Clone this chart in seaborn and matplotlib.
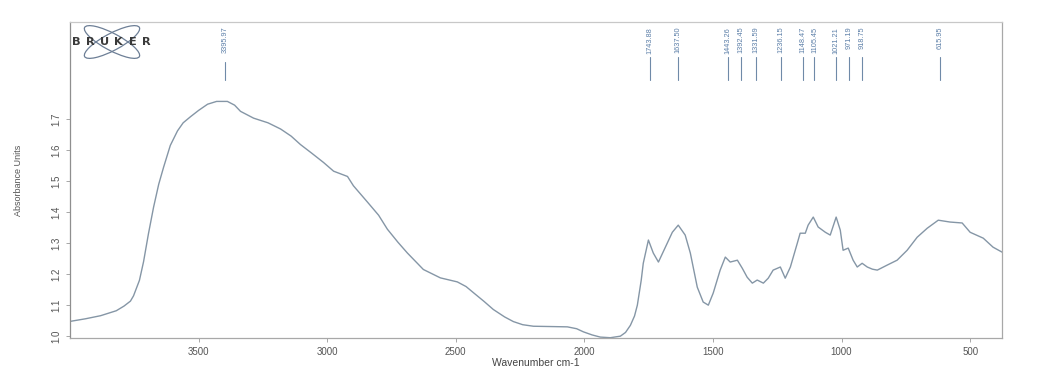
#!/usr/bin/python

## FTIR spectrum (Bruker OPUS style export), absorbance vs wavenumber

import pandas as pd
import matplotlib.pyplot as plt
import numpy as np
from matplotlib.patches import Ellipse
import seaborn as sns

##data
wavenumber = [3997, 3940, 3881, 3820, 3790, 3765, 3753, 3730, 3714, 3695,
              3675, 3655, 3636, 3610, 3582, 3560, 3531, 3500, 3465, 3430,
              3388, 3360, 3337, 3286, 3230, 3181, 3140, 3104, 3060, 3014,
              2975, 2921, 2898, 2843, 2800, 2766, 2725, 2688, 2626, 2560,
              2494, 2460, 2431, 2390, 2354, 2310, 2276, 2240, 2198, 2130,
              2066, 2030, 2004, 1970, 1938, 1899, 1860, 1840, 1821, 1805,
              1794, 1779, 1771, 1751, 1732, 1712, 1685, 1658, 1635, 1608,
              1588, 1561, 1538, 1518, 1499, 1472, 1452, 1433, 1405, 1386,
              1367, 1347, 1328, 1304, 1285, 1266, 1238, 1219, 1199, 1172,
              1161, 1141, 1130, 1110, 1091, 1063, 1044, 1021, 1005, 994,
              974, 955, 939, 920, 900, 880, 861, 823, 784, 745,
              706, 667, 624, 578, 531, 500, 449, 411, 376]
absorbance = [1.048, 1.056, 1.066, 1.082, 1.097, 1.113, 1.130, 1.180, 1.240, 1.330,
              1.416, 1.490, 1.545, 1.615, 1.662, 1.688, 1.708, 1.728, 1.748, 1.757,
              1.757, 1.745, 1.725, 1.703, 1.688, 1.668, 1.645, 1.618, 1.590, 1.560,
              1.532, 1.515, 1.485, 1.432, 1.390, 1.345, 1.303, 1.268, 1.215, 1.188,
              1.175, 1.160, 1.140, 1.112, 1.086, 1.062, 1.047, 1.037, 1.032, 1.031,
              1.030, 1.024, 1.014, 1.004, 0.997, 0.995, 1.000, 1.012, 1.035, 1.065,
              1.100, 1.180, 1.235, 1.310, 1.268, 1.239, 1.287, 1.335, 1.358, 1.326,
              1.268, 1.158, 1.110, 1.100, 1.139, 1.213, 1.255, 1.239, 1.245, 1.219,
              1.190, 1.171, 1.181, 1.171, 1.187, 1.213, 1.223, 1.187, 1.223, 1.300,
              1.332, 1.332, 1.358, 1.384, 1.352, 1.335, 1.326, 1.384, 1.342, 1.277,
              1.284, 1.245, 1.223, 1.235, 1.223, 1.216, 1.213, 1.229, 1.245, 1.277,
              1.319, 1.348, 1.374, 1.368, 1.365, 1.335, 1.316, 1.287, 1.271]

peak_labels = ["3395.97", "1743.88", "1637.50", "1443.26", "1392.45", "1331.59",
               "1236.15", "1148.47", "1105.45", "1021.21", "971.19", "918.75",
               "615.95"]
peak_pos = [float(p) for p in peak_labels]

x_ticks = [3500, 3000, 2500, 2000, 1500, 1000, 500]
y_ticks = [1.0, 1.1, 1.2, 1.3, 1.4, 1.5, 1.6, 1.7]

df = pd.DataFrame({"wavenumber": wavenumber, "absorbance": absorbance})

#Seaborn plotting
sns.set_theme(style="ticks")
plt.rcParams['font.family'] = ['Liberation Sans', 'DejaVu Sans']

fig = plt.figure(figsize=(10.4, 3.76), dpi=100)
ax = fig.add_axes([0.0673, 0.101, 0.8962, 0.8404])

sns.lineplot(data=df, x="wavenumber", y="absorbance", ax=ax, color="#8596a6",
             linewidth=1.0, sort=False)

ax.set_xlim(4000, 376)
ax.set_ylim(0.994, 2.013)
ax.set_xticks(x_ticks)
ax.set_yticks(y_ticks)
ax.set_xticklabels([str(t) for t in x_ticks], fontsize=7, color="#555555")
ax.set_yticklabels(["%.1f" % t for t in y_ticks], fontsize=7, color="#555555",
                   rotation=90, va="center")
ax.tick_params(axis="both", direction="out", length=3, width=0.6, color="#999999")
ax.set_xlabel("Wavenumber cm-1", fontsize=7.5, color="#444444", labelpad=1)
ax.set_ylabel("Absorbance Units", fontsize=6.5, color="#555555", labelpad=20)
for side in ["left", "right", "top", "bottom"]:
    ax.spines[side].set_visible(True)
    ax.spines[side].set_color("#a8a8a8")
    ax.spines[side].set_linewidth(0.9)
ax.spines["top"].set_color("#c8c8c8")
ax.spines["left"].set_color("#8f8f8f")

#peak labels
trans = ax.get_xaxis_transform()
for pos, lab in zip(peak_pos, peak_labels):
    ax.text(pos, 0.985, lab, transform=trans, rotation=90, fontsize=5.3,
            color="#5c7fa8", ha="center", va="top")
    top = 0.875 if pos > 3000 else 0.89
    ax.plot([pos, pos], [top, 0.815], transform=trans, color="#6f8aa8",
            linewidth=0.8)

#Bruker logo (pixel-sized, placed in inches from the figure corner)
for ang in (28, -28):
    fig.patches.append(Ellipse((1.12, 3.34), 0.62, 0.17, angle=ang,
                               transform=fig.dpi_scale_trans, fill=False,
                               edgecolor="#6d7f96", linewidth=0.9))
for i, ch in enumerate("BRUKER"):
    fig.text(0.0735 + i * 0.0135, 0.888, ch, fontsize=8.2, fontweight="bold",
             color="#3a3a3a", ha="center", va="center",
             family=["DejaVu Sans"])

#save to file
plt.savefig("out.png", dpi=100)
